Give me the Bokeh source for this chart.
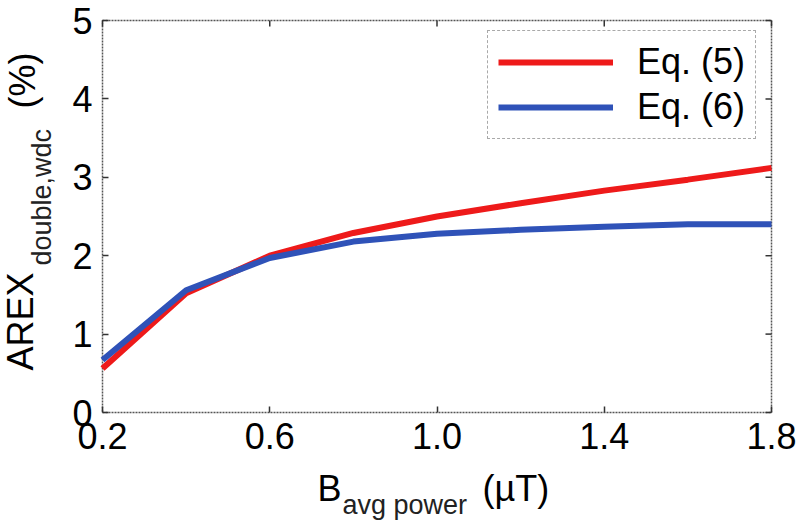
from math import pi
from bokeh.plotting import figure
from bokeh.models import (Label, LinearAxis, FixedTicker, Legend, LegendItem,
                          Range1d, ColumnDataSource)
from bokeh.embed import file_html
from bokeh.resources import INLINE

# ---- data ----
b_avg_power = [0.2, 0.4, 0.6, 0.8, 1.0, 1.2, 1.4, 1.6, 1.8]
arex_eq5 = [0.56, 1.52, 2.00, 2.29, 2.50, 2.67, 2.83, 2.97, 3.12]
arex_eq6 = [0.67, 1.56, 1.97, 2.18, 2.28, 2.33, 2.37, 2.40, 2.40]
series_names = ["Eq. (5)", "Eq. (6)"]
x_ticks = [0.2, 0.6, 1.0, 1.4, 1.8]
x_tick_labels = ["0.2", "0.6", "1.0", "1.4", "1.8"]
y_ticks = [0, 1, 2, 3, 4, 5]
y_tick_labels = ["0", "1", "2", "3", "4", "5"]

X0, X1 = 0.2, 1.8
Y0, Y1 = 0, 5

# ---- layout (pixels on the 800x526 canvas) ----
W, H = 800, 526
BOX_L, BOX_R, BOX_T, BOX_B = 102, 771, 20, 412
FONT = "Liberation Sans"
FRAME_COLOR = "#555555"
TICK_LEN = 6

def px_to_x(px):
    return X0 + (px - BOX_L) / (BOX_R - BOX_L) * (X1 - X0)

def py_to_y(py):
    return Y0 + (BOX_B - py) / (BOX_B - BOX_T) * (Y1 - Y0)

src = ColumnDataSource(dict(x=b_avg_power, eq5=arex_eq5, eq6=arex_eq6))

p = figure(frame_width=W, frame_height=H,
           x_range=Range1d(px_to_x(0), px_to_x(W)),
           y_range=Range1d(py_to_y(H), py_to_y(0)),
           output_backend="svg", toolbar_location=None,
           x_axis_type=None, y_axis_type=None, min_border=0)
p.background_fill_color = "white"
p.border_fill_color = "white"
p.outline_line_color = None
p.grid.visible = False

def make_axis(fixed, ticks, labels):
    ax = LinearAxis(fixed_location=fixed)
    ax.ticker = FixedTicker(ticks=ticks)
    ax.major_label_overrides = {t: l for t, l in zip(ticks, labels)}
    ax.axis_line_color = None
    ax.major_tick_in = TICK_LEN
    ax.major_tick_out = 0
    ax.major_tick_line_color = "#333333"
    ax.major_tick_line_width = 1.5
    ax.minor_tick_line_color = None
    ax.major_label_text_font = FONT
    ax.major_label_text_color = "black"
    ax.major_label_text_font_size = "36px"
    ax.major_label_standoff = 10
    return ax

p.add_layout(make_axis(Y0, x_ticks, x_tick_labels), "below")
p.add_layout(make_axis(X0, y_ticks, y_tick_labels), "left")

# plot box (dotted grey, like the reference) and box ticks on top/right
p.quad(left=[X0], right=[X1], bottom=[Y0], top=[Y1], fill_color=None,
       line_color=FRAME_COLOR, line_dash="2 1", line_width=1.5)
dy = TICK_LEN * (Y1 - Y0) / (BOX_B - BOX_T)
dx = TICK_LEN * (X1 - X0) / (BOX_R - BOX_L)
p.segment(x0=x_ticks, y0=[Y1] * len(x_ticks), x1=x_ticks, y1=[Y1 - dy] * len(x_ticks),
          line_color="#333333", line_width=1.5)
p.segment(x0=[X1] * len(y_ticks), y0=y_ticks, x1=[X1 - dx] * len(y_ticks), y1=y_ticks,
          line_color="#333333", line_width=1.5)

r5 = p.line("x", "eq5", source=src, line_color="#ee1a1a", line_width=6)
r6 = p.line("x", "eq6", source=src, line_color="#2f52b8", line_width=6)

legend = Legend(items=[LegendItem(label=series_names[0], renderers=[r5]),
                       LegendItem(label=series_names[1], renderers=[r6])],
                location=(487, H - 139))
legend.label_text_font = FONT
legend.label_text_font_size = "36px"
legend.label_text_color = "black"
legend.glyph_width = 115
legend.glyph_height = 38
legend.label_height = 38
legend.label_standoff = 24
legend.spacing = 3
legend.padding = 10
legend.margin = 0
legend.border_line_color = FRAME_COLOR
legend.border_line_dash = "2 1"
legend.border_line_width = 1.5
legend.background_fill_color = "white"
legend.background_fill_alpha = 1.0
p.add_layout(legend)

# ---- axis titles built from pieces (main text + subscript) ----
def add_label(text, px, py, size, angle=0.0, color="black"):
    p.add_layout(Label(text=text, x=px_to_x(px), y=py_to_y(py),
                       angle=angle, text_font=FONT, text_font_size=size,
                       text_color=color, text_align="left",
                       text_baseline="alphabetic"))

# x title: B_{avg power} (µT)
add_label("B", 317, 488, "36px")
add_label("avg power", 342, 504, "27px", color="#222222")
add_label("(µT)", 482, 488, "36px")

# y title: AREX_{double,wdc} (%)
add_label("AREX", 20, 370, "36px", angle=pi / 2)
add_label("double,wdc", 41, 265, "27px", angle=pi / 2, color="#222222")
add_label("(%)", 22, 108, "36px", angle=pi / 2)

with open("out.html", "w") as f:
    f.write(file_html(p, INLINE))
